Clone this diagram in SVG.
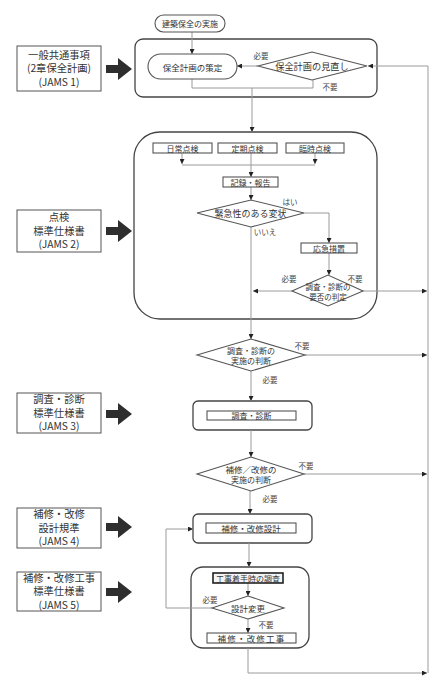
<svg xmlns="http://www.w3.org/2000/svg" width="443" height="682" viewBox="0 0 443 682">
<style>
.bg{fill:#fff}
.ln{fill:none;stroke:#9a9a9a;stroke-width:1}
.bx{fill:#fff;stroke:#555;stroke-width:1.1}
.ob{fill:#fff;stroke:#444;stroke-width:1.3}
.lb{fill:#fff;stroke:#555;stroke-width:1}
.t{font-family:"Noto Sans CJK JP","Noto Sans",sans-serif;font-size:8px;fill:#333;text-anchor:middle;dominant-baseline:central}
.lt{font-family:"Noto Sans CJK JP","Noto Sans",sans-serif;font-size:7.5px;fill:#444;text-anchor:middle}
.st{font-family:"Noto Sans CJK JP","Noto Sans",sans-serif;font-size:10.3px;fill:#333;text-anchor:middle}
.ba{fill:#2e2e2e}
</style>
<defs>
<marker id="ah" viewBox="0 0 10 10" refX="10" refY="5" markerWidth="5" markerHeight="5" orient="auto" markerUnits="userSpaceOnUse">
<path d="M0,0 L10,5 L0,10 z" fill="#222"/>
</marker>
</defs>
<rect class="bg" x="0" y="0" width="443" height="682"/>

<!-- left standard boxes -->
<g id="std1">
<rect class="lb" x="17" y="46" width="84" height="45"/>
<text class="st" x="59" y="58.5">一般共通事項</text>
<text class="st" x="59" y="72">(2章保全計画)</text>
<text class="st" x="59" y="85.5">(JAMS 1)</text>
<path class="ba" d="M106,65 H118 V58 L132,69 L118,80 V73 H106 z"/>
</g>
<g id="std2">
<rect class="lb" x="17" y="210" width="84" height="42"/>
<text class="st" x="59" y="221">点検</text>
<text class="st" x="59" y="234.5">標準仕様書</text>
<text class="st" x="59" y="248">(JAMS 2)</text>
<path class="ba" d="M106,227 H118 V220 L132,231 L118,242 V235 H106 z"/>
</g>
<g id="std3">
<rect class="lb" x="17" y="393" width="84" height="40"/>
<text class="st" x="59" y="403">調査・診断</text>
<text class="st" x="59" y="416.5">標準仕様書</text>
<text class="st" x="59" y="430">(JAMS 3)</text>
<path class="ba" d="M106,410 H118 V403 L132,414 L118,425 V418 H106 z"/>
</g>
<g id="std4">
<rect class="lb" x="17" y="508" width="84" height="40"/>
<text class="st" x="59" y="518">補修・改修</text>
<text class="st" x="59" y="531.5">設計規準</text>
<text class="st" x="59" y="545">(JAMS 4)</text>
<path class="ba" d="M106,523 H118 V516 L132,527 L118,538 V531 H106 z"/>
</g>
<g id="std5">
<rect class="lb" x="17" y="572" width="84" height="39"/>
<text class="st" x="59" y="581.5">補修・改修工事</text>
<text class="st" x="59" y="595">標準仕様書</text>
<text class="st" x="59" y="608.5">(JAMS 5)</text>
<path class="ba" d="M106,588 H118 V581 L132,592 L118,603 V596 H106 z"/>
</g>

<!-- container frames -->
<g id="frame1"><rect class="ob" x="135" y="39" width="242" height="58" rx="8"/></g>
<g id="frame2"><rect class="ob" x="134" y="132" width="243" height="187" rx="26"/></g>
<g id="frame3"><rect class="ob" x="193" y="401" width="119" height="29" rx="5"/></g>
<g id="frame4"><rect class="ob" x="193" y="514" width="119" height="29" rx="5"/></g>
<g id="frame5"><rect class="ob" x="191" y="567" width="118" height="81" rx="12"/></g>

<!-- connectors -->
<g id="connectors">
<path class="ln" d="M192,32 V54" marker-end="url(#ah)"/>
<path class="ln" d="M258,66 H237" marker-end="url(#ah)"/>
<path class="ln" d="M192,79 V88 H313 V80"/>
<path class="ln" d="M252,88 V132" marker-end="url(#ah)"/>
<path class="ln" d="M428,673 V66 H368" marker-end="url(#ah)"/>
<path class="ln" d="M182,153 V164" marker-end="url(#ah)"/>
<path class="ln" d="M315,153 V164" marker-end="url(#ah)"/>
<path class="ln" d="M182,165 H315"/>
<path class="ln" d="M251,153 V177" marker-end="url(#ah)"/>
<path class="ln" d="M251,187 V200" marker-end="url(#ah)"/>
<path class="ln" d="M304,213 H329 V243" marker-end="url(#ah)"/>
<path class="ln" d="M251,227 V339" marker-end="url(#ah)"/>
<path class="ln" d="M329,253 V275" marker-end="url(#ah)"/>
<path class="ln" d="M292,291 H253" marker-end="url(#ah)"/>
<path class="ln" d="M363,291 H427" marker-end="url(#ah)"/>
<path class="ln" d="M305,355 H427" marker-end="url(#ah)"/>
<path class="ln" d="M251,371 V401" marker-end="url(#ah)"/>
<path class="ln" d="M251,430 V457" marker-end="url(#ah)"/>
<path class="ln" d="M304,474 H427" marker-end="url(#ah)"/>
<path class="ln" d="M250,491 V514" marker-end="url(#ah)"/>
<path class="ln" d="M249,543 V567" marker-end="url(#ah)"/>
<path class="ln" d="M248,583 V596" marker-end="url(#ah)"/>
<path class="ln" d="M212,608 H166 V529 H193" marker-end="url(#ah)"/>
<path class="ln" d="M248,619 V633" marker-end="url(#ah)"/>
<path class="ln" d="M248,648 V673 H427" marker-end="url(#ah)"/>
</g>

<!-- nodes -->
<g id="start">
<rect class="bx" x="155" y="15" width="70" height="17" rx="8.5"/>
<text class="t" x="190" y="23.5">建築保全の実施</text>
</g>
<g id="plan">
<rect class="bx" x="148" y="54" width="89" height="25" rx="12.5"/>
<text class="t" x="192.5" y="66.5" style="font-size:8.5px">保全計画の策定</text>
</g>
<g id="review">
<polygon class="bx" points="258,66 312,52 367,66 312,80"/>
<text class="t" x="312" y="66" style="font-size:9.2px">保全計画の見直し</text>
</g>
<g id="daily">
<rect class="bx" x="153" y="143" width="59" height="10"/>
<text class="t" x="182.5" y="148">日常点検</text>
</g>
<g id="periodic">
<rect class="bx" x="218" y="143" width="59" height="10"/>
<text class="t" x="247.5" y="148">定期点検</text>
</g>
<g id="extra">
<rect class="bx" x="286" y="143" width="58" height="10"/>
<text class="t" x="315" y="148">臨時点検</text>
</g>
<g id="record">
<rect class="bx" x="223" y="177" width="55" height="10"/>
<text class="t" x="250.5" y="182">記録・報告</text>
</g>
<g id="urgent">
<polygon class="bx" points="197,213 251,200 304,213 251,227"/>
<text class="t" x="250.5" y="213.5" style="font-size:9px">緊急性のある変状</text>
</g>
<g id="emergency">
<rect class="bx" x="301" y="243" width="56" height="10"/>
<text class="t" x="329" y="248">応急措置</text>
</g>
<g id="need1">
<polygon class="bx" points="292,291 328,275 363,291 328,306"/>
<text class="t" x="328" y="286" style="font-size:7.5px">調査・診断の</text>
<text class="t" x="328" y="296" style="font-size:7.5px">要否の判定</text>
</g>
<g id="need2">
<polygon class="bx" points="197,355 251,339 305,355 251,371"/>
<text class="t" x="251" y="350">調査・診断の</text>
<text class="t" x="251" y="360">実施の判断</text>
</g>
<g id="survey">
<rect class="bx" x="207" y="411" width="89" height="9"/>
<text class="t" x="251.5" y="415.5">調査・診断</text>
</g>
<g id="need3">
<polygon class="bx" points="197,474 251,457 304,474 251,491"/>
<text class="t" x="251" y="469" style="font-size:8.5px">補修／改修の</text>
<text class="t" x="251" y="479">実施の判断</text>
</g>
<g id="design">
<rect class="bx" x="206" y="523" width="90" height="10"/>
<text class="t" x="251" y="528" style="font-size:8.5px">補修・改修設計</text>
</g>
<g id="presurvey">
<rect x="213" y="573" width="70" height="10" fill="#f4f4f4" stroke="#222" stroke-width="1.6"/>
<text class="t" x="248" y="578">工事着手時の調査</text>
</g>
<g id="change">
<polygon class="bx" points="212,608 248,596 284,608 248,619"/>
<text class="t" x="248" y="608" style="font-size:8.5px">設計変更</text>
</g>
<g id="work">
<rect class="bx" x="207" y="633" width="89" height="10"/>
<text class="t" x="251.5" y="638" style="font-size:8.5px;letter-spacing:1.2px">補修・改修工事</text>
</g>

<!-- connector labels -->
<g id="labels">
<text class="lt" x="261" y="59">必要</text>
<text class="lt" x="330" y="90">不要</text>
<text class="lt" x="290" y="205">はい</text>
<text class="lt" x="265" y="235">いいえ</text>
<text class="lt" x="289" y="282">必要</text>
<text class="lt" x="355" y="282">不要</text>
<text class="lt" x="302" y="349">不要</text>
<text class="lt" x="270" y="383">必要</text>
<text class="lt" x="306" y="469">不要</text>
<text class="lt" x="270" y="502">必要</text>
<text class="lt" x="210" y="603">必要</text>
<text class="lt" x="266" y="628">不要</text>
</g>
</svg>
